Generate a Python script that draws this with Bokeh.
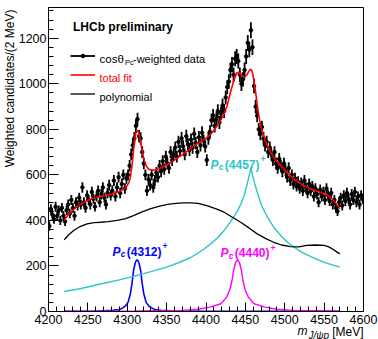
import numpy as np
from bokeh.plotting import figure
from bokeh.models import (Range1d, SingleIntervalTicker, Label, Legend, LegendItem,
                          ColumnDataSource, Title)
from bokeh.embed import file_html
from bokeh.resources import INLINE

FONT = "Liberation Sans"

# ---------------- data ----------------
bin_low = 4200
bin_width = 2
counts = [
    375, 450, 425, 405, 460, 420, 445, 400, 455, 420,
    395, 445, 470, 430, 490, 455, 420, 480, 465, 500,
    470, 545, 480, 455, 510, 490, 470, 525, 495, 460,
    505, 530, 480, 515, 545, 500, 470, 520, 555, 510,
    530, 575, 505, 545, 590, 520, 560, 600, 540, 585,
    600, 640, 690, 730, 760, 815, 845, 770, 760, 700,
    650, 600, 530, 580, 555, 600, 545, 575, 610, 590,
    640, 615, 660, 625, 680, 650, 630, 700, 665, 690,
    720, 680, 745, 705, 760, 725, 690, 770, 735, 710,
    755, 720, 780, 740, 700, 765, 730, 785, 750, 725,
    665, 760, 790, 840, 860, 815, 845, 880, 830, 870,
    905, 880, 940, 985, 1010, 1060, 1085, 1040, 1110, 1120,
    1100, 1040, 1000, 1020, 1060, 1120, 1180, 1150, 1235, 1160,
    990, 900, 860, 800, 780, 810, 760, 730, 745, 700,
    720, 690, 665, 700, 650, 630, 670, 640, 615, 650,
    620, 590, 630, 575, 600, 560, 585, 550, 570, 540,
    565, 530, 575, 545, 520, 560, 530, 550, 505, 540,
    515, 480, 535, 505, 525, 490, 540, 510, 485, 520,
    470, 490, 455, 440, 480, 500, 465, 510, 485, 520,
    495, 470, 515, 490, 525, 480, 505, 470, 510, 495,
]
errors = [
    20, 21, 21, 20, 22, 21, 21, 20, 21, 21,
    20, 21, 22, 21, 22, 21, 21, 22, 22, 22,
    22, 23, 22, 21, 23, 22, 22, 23, 22, 21,
    22, 23, 22, 23, 23, 22, 22, 23, 24, 23,
    23, 24, 22, 23, 24, 23, 24, 24, 23, 24,
    24, 25, 26, 27, 28, 29, 28, 27, 27, 26,
    25, 24, 23, 24, 24, 24, 23, 24, 25, 24,
    25, 25, 26, 25, 26, 25, 25, 26, 26, 26,
    27, 26, 27, 27, 28, 27, 26, 28, 27, 27,
    27, 27, 28, 27, 26, 28, 27, 28, 27, 27,
    26, 28, 28, 29, 29, 29, 29, 30, 29, 29,
    30, 30, 31, 31, 32, 33, 33, 32, 33, 33,
    33, 32, 32, 32, 33, 33, 34, 34, 35, 34,
    32, 30, 29, 28, 28, 28, 28, 27, 27, 26,
    27, 26, 26, 26, 26, 25, 26, 25, 25, 25,
    25, 24, 25, 24, 24, 24, 24, 23, 24, 23,
    24, 23, 24, 23, 23, 24, 23, 23, 22, 23,
    23, 22, 23, 22, 23, 22, 23, 23, 22, 23,
    22, 22, 21, 21, 22, 22, 22, 23, 22, 23,
    22, 22, 23, 22, 23, 22, 22, 22, 23, 22,
]

fit_m = [4220, 4225, 4230, 4238, 4246, 4255, 4268, 4281, 4290, 4298, 4302, 4304,
         4306, 4308, 4309, 4310, 4311, 4312, 4313, 4314, 4315, 4316, 4317, 4319,
         4321, 4324, 4327, 4331, 4336, 4342, 4349, 4357, 4365, 4374, 4382, 4390,
         4399, 4405, 4410, 4416, 4422, 4427, 4431, 4435, 4439, 4442, 4446, 4449,
         4452, 4455, 4457, 4459, 4461, 4463, 4465, 4467, 4470, 4473, 4477, 4482,
         4488, 4495, 4503, 4511, 4520, 4528, 4536, 4545, 4552, 4558, 4564, 4570]
fit_v = [400, 425, 443, 465, 482, 495, 507, 517, 527, 543, 565, 590,
         640, 707, 740, 765, 783, 793, 795, 788, 775, 760, 742, 705,
         670, 640, 626, 620, 622, 630, 641, 658, 677, 698, 721, 740,
         758, 775, 795, 825, 860, 905, 963, 1010, 1048, 1050, 1035, 1030,
         1040, 1058, 1065, 1050, 1010, 963, 910, 860, 810, 773, 735, 699,
         668, 641, 610, 583, 562, 546, 535, 524, 515, 502, 480, 451]

poly_m = [4220, 4226, 4232, 4240, 4249, 4258, 4266, 4276, 4287, 4298, 4308, 4318,
          4329, 4340, 4351, 4362, 4372, 4380, 4390, 4401, 4412, 4423, 4433, 4444,
          4455, 4465, 4476, 4486, 4496, 4507, 4518, 4528, 4539, 4550, 4556, 4562,
          4566, 4570]
poly_v = [315, 338, 356, 373, 385, 390, 392, 395, 400, 408, 421, 436,
          451, 462, 470, 475, 477, 477, 475, 465, 452, 436, 415, 392,
          366, 341, 320, 304, 292, 285, 284, 290, 292, 290, 284, 271,
          262, 253]

pc4457_m = [4220, 4240, 4266, 4290, 4308, 4330, 4350, 4365, 4380, 4395, 4406, 4415,
            4423, 4430, 4435, 4440, 4444, 4448, 4452, 4455, 4457, 4459, 4462, 4465,
            4470, 4478, 4486, 4495, 4503, 4512, 4522, 4533, 4550, 4570]
pc4457_v = [88, 100, 121, 139, 154, 175, 195, 214, 236, 268, 297, 325,
            356, 388, 414, 442, 470, 505, 555, 600, 634, 600, 560, 525,
            470, 414, 370, 334, 305, 282, 260, 241, 216, 195]

pc4312_m = [4220, 4262, 4282, 4290, 4295, 4298, 4301, 4304, 4306, 4308, 4310,
            4311.5, 4312.5, 4313.5, 4315, 4317, 4319, 4321, 4324, 4327, 4330,
            4335, 4343, 4363, 4400, 4480, 4570]
pc4312_v = [1, 2, 5, 9, 17, 26, 40, 78, 122, 180, 212,
            224, 227, 224, 212, 180, 122, 78, 40, 26, 17,
            9, 5, 2, 1, 0.5, 0.3]

pc4440_m = [4220, 4310, 4370, 4390, 4405, 4419, 4426, 4430, 4433, 4435, 4437.5,
            4440, 4442.5, 4445, 4447, 4450, 4454, 4461, 4475, 4490, 4510, 4570]
pc4440_v = [1, 2, 5, 10, 19, 34, 62, 92, 135, 180, 215,
            227, 215, 180, 135, 92, 62, 34, 19, 10, 5, 2]

# ---------------- figure ----------------
p = figure(width=378, height=339, output_backend="svg", toolbar_location=None,
           x_range=Range1d(4200, 4600), y_range=Range1d(0, 1335),
           min_border_left=48, min_border_right=15, min_border_top=7,
           min_border_bottom=28)
p.xgrid.visible = False
p.ygrid.visible = False
p.outline_line_color = "black"
p.outline_line_width = 1
p.outline_line_alpha = 1
p.background_fill_color = "white"
p.border_fill_color = "white"

p.xaxis.ticker = SingleIntervalTicker(interval=50, num_minor_ticks=5)
p.yaxis.ticker = SingleIntervalTicker(interval=200, num_minor_ticks=5)
for ax in (p.xaxis, p.yaxis):
    ax.axis_line_color = "black"
    ax.major_tick_line_color = "black"
    ax.minor_tick_line_color = "black"
    ax.major_tick_out = 0
    ax.minor_tick_out = 0
    ax.major_label_text_font = FONT
    ax.major_label_text_font_size = "12.5px"
    ax.major_label_text_color = "black"
p.xaxis.major_tick_in = 9
p.xaxis.minor_tick_in = 5
p.yaxis.major_tick_in = 10
p.yaxis.minor_tick_in = 5
p.xaxis.major_label_standoff = 3
p.yaxis.major_label_standoff = 2

mass = [bin_low + bin_width * (i + 0.5) for i in range(len(counts))]
src = ColumnDataSource(dict(
    m=mass, v=counts,
    lo=[c - e for c, e in zip(counts, errors)],
    hi=[c + e for c, e in zip(counts, errors)],
))

CYAN = "#2cc6c6"
BLUE = "#0000ff"
MAG = "#ff00ff"

r_pc4312 = p.line(pc4312_m, pc4312_v, line_color=BLUE, line_width=1.6)
r_pc4440 = p.line(pc4440_m, pc4440_v, line_color=MAG, line_width=1.4)
r_pc4457 = p.line(pc4457_m, pc4457_v, line_color=CYAN, line_width=1.4)
r_poly = p.line(poly_m, poly_v, line_color="black", line_width=1.3)
r_err = p.segment(x0="m", y0="lo", x1="m", y1="hi", source=src,
                  line_color="black", line_width=1.8)
r_pts = p.scatter("m", "v", source=src, size=3.5, color="black")
r_fit = p.line(fit_m, fit_v, line_color="red", line_width=1.6)

legend = Legend(items=[LegendItem(label=" ", renderers=[r_err, r_pts]),
                       LegendItem(label=" ", renderers=[r_fit]),
                       LegendItem(label=" ", renderers=[r_poly])],
                location=(22, 208.5), glyph_width=25, glyph_height=9,
                label_height=19, spacing=0, padding=0, margin=0,
                label_standoff=0, border_line_alpha=0,
                background_fill_alpha=0, label_text_font_size="11px")
p.add_layout(legend)

FL, FB = 48, 311   # frame left / bottom in page pixels


def put(text, px, py, size="11px", color="black", style="normal", align="left"):
    p.add_layout(Label(x=px - FL, y=FB - py, x_units="screen", y_units="screen",
                       text=text, text_font=FONT, text_font_size=size,
                       text_color=color, text_font_style=style,
                       text_align=align, text_baseline="alphabetic"))


put("LHCb preliminary", 72.5, 26.5, "12px", style="bold")
put("cos\u03b8", 99, 58.8, "11.5px")
put("Pc", 124.5, 61.8, "7.5px")
put("-weighted data", 132.5, 58.8)
put("total fit", 99, 77.5, color="red")
put("polynomial", 99, 96)

for (col, px, py, lab) in [(BLUE, 112, 251, "(4312)"),
                           (MAG, 220, 252.5, "(4440)"),
                           (CYAN, 210, 164.3, "(4457)")]:
    put("P", px, py, "12px", col, "bold italic")
    put("c", px + 8.3, py + 2.5, "8.5px", col, "bold italic")
    put(lab, px + 14.3, py, "12px", col, "bold")
    put("+", px + 50, py - 5.5, "8.5px", col, "bold")


# ---------------- axis titles (side-panel titles) ----------------
def side_title(text, side, size, style="normal", offset=0, standoff=0,
               valign="bottom"):
    t = Title(text=text, align="right", offset=offset, standoff=standoff,
              vertical_align=valign, text_font=FONT, text_font_size=size,
              text_font_style=style, text_color="black")
    p.add_layout(t, side)


side_title("Weighted candidates/(2 MeV)", "left", "12px", offset=2, standoff=-3)

side_title(" ", "below", "12px", offset=0, standoff=-13)
side_title("m", "below", "12px", "italic", offset=56, standoff=-15)
side_title("[MeV]", "below", "12px", offset=0, standoff=-15)
side_title(" ", "below", "12px", offset=0, standoff=-14)
side_title("J/\u03c8p", "below", "10px", "italic", offset=34.5, standoff=-12)

open("out.html", "w").write(file_html(p, INLINE))
